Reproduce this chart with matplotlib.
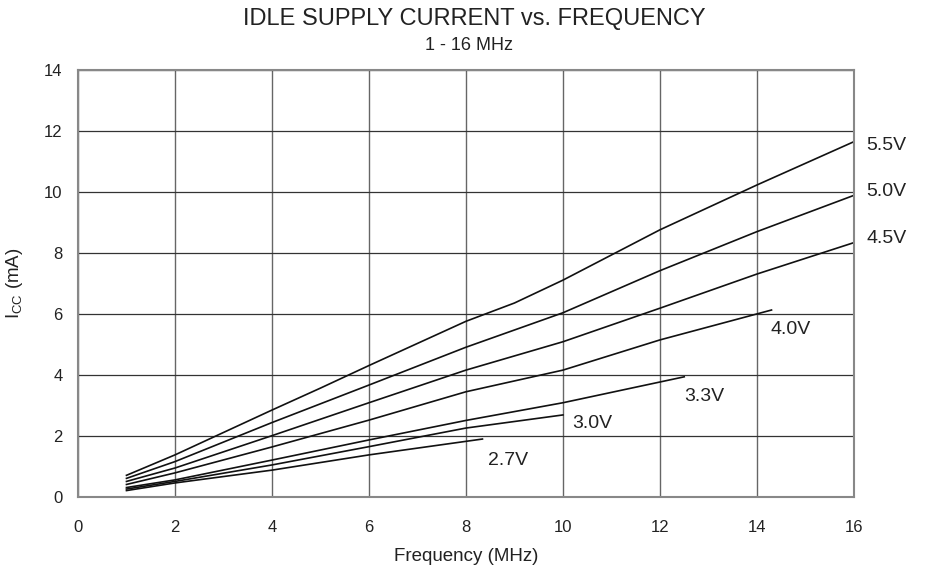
import matplotlib.pyplot as plt

plt.rcParams['font.family'] = ['Liberation Sans', 'DejaVu Sans']

# frequency (MHz) and current (mA) per supply voltage
f_55 = [1, 2, 4, 5, 6, 8, 9, 10, 12, 14, 16]
i_55 = [0.7, 1.37, 2.84, 3.56, 4.3, 5.75, 6.35, 7.1, 8.75, 10.22, 11.64]
f_50 = [1, 2, 4, 6, 8, 10, 12, 14, 16]
i_50 = [0.6, 1.15, 2.43, 3.66, 4.9, 6.03, 7.41, 8.69, 9.88]
f_45 = [1, 2, 4, 6, 8, 10, 12, 14, 16]
i_45 = [0.5, 0.94, 2.0, 3.08, 4.15, 5.08, 6.18, 7.3, 8.33]
f_40 = [1, 2, 4, 6, 8, 10, 12, 14.3]
i_40 = [0.4, 0.78, 1.63, 2.51, 3.44, 4.15, 5.14, 6.12]
f_33 = [1, 2, 4, 6, 8, 10, 12.5]
i_33 = [0.3, 0.55, 1.2, 1.86, 2.5, 3.08, 3.93]
f_30 = [1, 2, 4, 6, 8, 10]
i_30 = [0.25, 0.5, 1.04, 1.64, 2.25, 2.68]
f_27 = [1, 2, 4, 6, 8.34]
i_27 = [0.2, 0.45, 0.87, 1.37, 1.89]

labels = ['5.5V', '5.0V', '4.5V', '4.0V', '3.3V', '3.0V', '2.7V']
label_pos = [(16.25, 11.5), (16.25, 10.0), (16.25, 8.45), (14.27, 5.47),
             (12.5, 3.27), (10.2, 2.4), (8.45, 1.2)]

fig = plt.figure(figsize=(9.26, 5.73), dpi=100)
ax = fig.add_axes([0.0842, 0.1332, 0.838, 0.7452])

series = [(f_55, i_55), (f_50, i_50), (f_45, i_45), (f_40, i_40),
          (f_33, i_33), (f_30, i_30), (f_27, i_27)]
for (xs, ys) in series:
    ax.plot(xs, ys, color='#111111', lw=1.2)

for lab, (lx, ly) in zip(labels, label_pos):
    ax.text(lx, ly, lab, fontsize=14, color='#222222', va='center', ha='left',
            clip_on=False)

ax.set_xlim(0, 16)
ax.set_ylim(0, 14)
ax.set_xticks(range(0, 17, 2))
ax.set_yticks(range(0, 15, 2))
ax.xaxis.grid(True, color='#666666', lw=1.0)
ax.yaxis.grid(True, color='#333333', lw=0.9)
for s in ax.spines.values():
    s.set_color('#888888')
    s.set_linewidth(1.5)
ax.tick_params(length=0, labelsize=12, colors='#222222')
ax.tick_params(axis='x', pad=17)
ax.tick_params(axis='y', pad=11)

ax.set_xlabel('Frequency (MHz)', fontsize=13.5, color='#222222', labelpad=9)
ax.set_ylabel(r'I$_{\mathregular{CC}}$ (mA)', fontsize=13.5, color='#222222', labelpad=14)

fig.text(0.512, 0.966, 'IDLE SUPPLY CURRENT vs. FREQUENCY', ha='center', va='center',
         fontsize=17, color='#222222')
fig.text(0.506, 0.92, '1 - 16 MHz', ha='center', va='center', fontsize=13, color='#222222')

fig.savefig('out.png', dpi=100)
